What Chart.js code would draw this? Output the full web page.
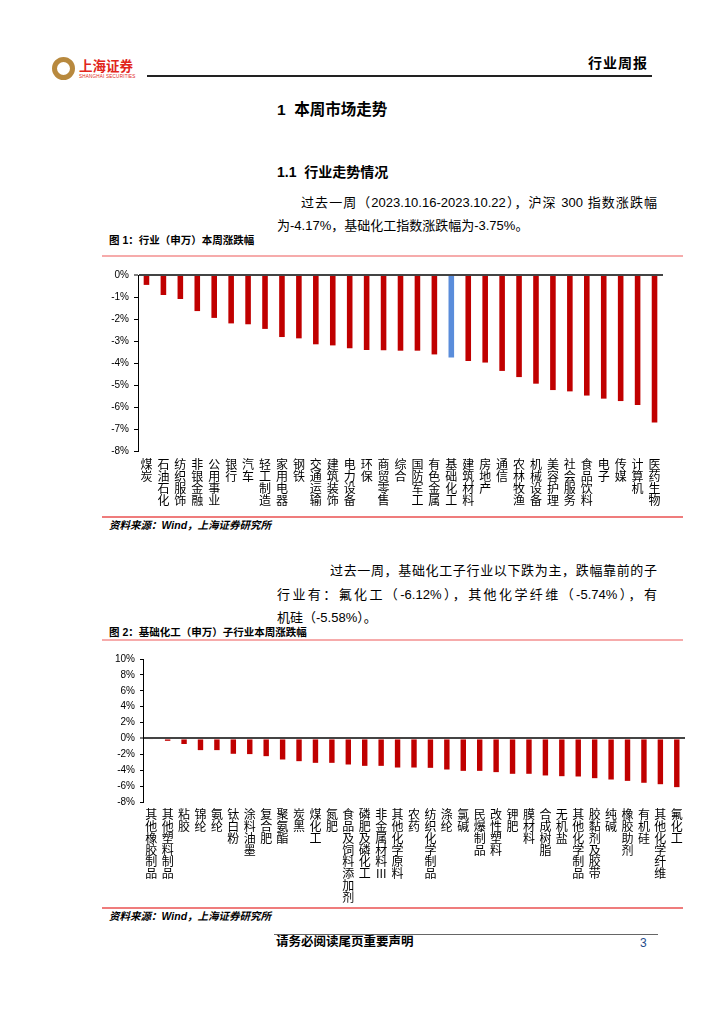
<!DOCTYPE html>
<html>
<head>
<meta charset="utf-8">
<script src="https://cdn.jsdelivr.net/npm/chart.js@4.4.0/dist/chart.umd.min.js"></script>
<style>
  body { margin: 0; background: #fff; }
  #page { position: relative; width: 724px; height: 1024px; overflow: hidden; background: #fff;
          font-family: "Liberation Sans", "Noto Sans CJK SC", sans-serif; color: #000; }
  .t { position: absolute; white-space: nowrap; line-height: 1; }
  .jl { text-align: justify; text-align-last: justify; }
  .rule { position: absolute; }
  canvas { position: absolute; }
</style>
</head>
<body>
<div id="page">
  <!-- header -->
  <div class="rule" style="left:52px;top:57px;width:13px;height:13px;border:5px solid #B8893E;border-radius:50%;background:#fff;"></div>
  <div class="t" style="left:79px;top:60px;font-size:13.5px;font-weight:bold;color:#E1251B;">上海证券</div>
  <div class="t" style="left:79px;top:75px;font-size:4.6px;color:#E1251B;letter-spacing:0.2px;">SHANGHAI SECURITIES</div>
  <div class="t" style="left:588px;top:56px;font-size:14px;font-weight:bold;letter-spacing:1px;">行业周报</div>
  <div class="rule" style="left:147px;top:75px;width:505px;height:2px;background:#222;"></div>

  <!-- section titles -->
  <div class="t" style="left:277px;top:102px;font-size:15.5px;font-weight:bold;">1&nbsp;&nbsp;本周市场走势</div>
  <div class="t" style="left:277px;top:165px;font-size:14px;font-weight:bold;">1.1&nbsp;&nbsp;行业走势情况</div>

  <div class="t jl" style="left:301px;top:196px;width:356px;font-size:13px;">过去一周（2023.10.16-2023.10.22），沪深 300 指数涨跌幅</div>
  <div class="t" style="left:277px;top:219px;font-size:13px;">为-4.17%，基础化工指数涨跌幅为-3.75%。</div>

  <div class="t" style="left:109px;top:235px;font-size:10.5px;font-weight:bold;">图 1：行业（申万）本周涨跌幅</div>
  <div class="rule" style="left:102px;top:255px;width:581px;height:2px;background:#F6ABAB;"></div>

  <canvas id="c1" width="580" height="252" style="left:100px;top:262px;width:580px;height:252px;"></canvas>

  <div class="rule" style="left:102px;top:516px;width:581px;height:2px;background:#EF7C7C;"></div>
  <div class="t" style="left:109px;top:520px;font-size:10.5px;font-weight:bold;font-style:italic;">资料来源：Wind，上海证券研究所</div>

  <div class="t jl" style="left:330px;top:564px;width:327px;font-size:13px;">过去一周，基础化工子行业以下跌为主，跌幅靠前的子</div>
  <div class="t jl" style="left:277px;top:588px;width:380px;font-size:13px;">行业有：氟化工（-6.12%），其他化学纤维（-5.74%），有</div>
  <div class="t" style="left:277px;top:611px;font-size:13px;">机硅（-5.58%）。</div>

  <div class="t" style="left:109px;top:627px;font-size:10.5px;font-weight:bold;">图 2：基础化工（申万）子行业本周涨跌幅</div>
  <div class="rule" style="left:102px;top:639px;width:581px;height:2px;background:#F6ABAB;"></div>

  <canvas id="c2" width="600" height="260" style="left:100px;top:645px;width:600px;height:260px;"></canvas>

  <div class="rule" style="left:102px;top:907px;width:581px;height:2px;background:#EF7C7C;"></div>
  <div class="t" style="left:109px;top:911px;font-size:10.5px;font-weight:bold;font-style:italic;">资料来源：Wind，上海证券研究所</div>

  <!-- footer -->
  <div class="rule" style="left:274px;top:934px;width:384px;height:1px;background:#666;"></div>
  <div class="t" style="left:276px;top:936px;font-size:12.5px;font-weight:bold;">请务必阅读尾页重要声明</div>
  <div class="t" style="left:640px;top:937px;font-size:12px;color:#1F4E8C;">3</div>
</div>

<script>
// ---- Chart 1 data: 申万一级行业本周涨跌幅 (%) ----
const industries = ['煤炭','石油石化','纺织服饰','非银金融','公用事业','银行','汽车','轻工制造','家用电器','钢铁',
  '交通运输','建筑装饰','电力设备','环保','商贸零售','综合','国防军工','有色金属','基础化工','建筑材料',
  '房地产','通信','农林牧渔','机械设备','美容护理','社会服务','食品饮料','电子','传媒','计算机','医药生物'];
const industryChanges = [-0.45,-0.91,-1.09,-1.64,-1.95,-2.20,-2.24,-2.45,-2.82,-2.88,
  -3.15,-3.20,-3.33,-3.41,-3.42,-3.44,-3.44,-3.61,-3.75,-3.91,
  -3.98,-4.36,-4.64,-4.94,-5.23,-5.29,-5.48,-5.62,-5.73,-5.91,-6.70];
const highlightIndustry = '基础化工';

// ---- Chart 2 data: 基础化工子行业本周涨跌幅 (%) ----
const subIndustries = ['其他橡胶制品','其他塑料制品','粘胶','锦纶','氨纶','钛白粉','涂料油墨','复合肥','聚氨酯','炭黑',
  '煤化工','氮肥','食品及饲料添加剂','磷肥及磷化工','非金属材料III','其他化学原料','农药','纺织化学制品','涤纶','氯碱',
  '民爆制品','改性塑料','钾肥','膜材料','合成树脂','无机盐','其他化学制品','胶黏剂及胶带','纯碱','橡胶助剂',
  '有机硅','其他化学纤维','氟化工'];
const subIndustryChanges = [-0.13,-0.30,-0.70,-1.47,-1.47,-1.93,-1.97,-2.23,-2.65,-2.86,
  -3.07,-3.07,-3.28,-3.45,-3.45,-3.66,-3.66,-3.70,-3.91,-4.08,
  -4.08,-4.24,-4.45,-4.45,-4.66,-4.75,-4.79,-5.00,-5.17,-5.34,
  -5.58,-5.76,-6.13];

// axis ranges
const axis1 = { min: -8, max: 0, step: 1 };
const axis2 = { min: -8, max: 10, step: 2 };

const RED = '#C00000';
const BLUE = '#5A8DDB';

function vertical(s) { return s.match(/[A-Za-z]+|./g); }

function makeChart(id, cats, vals, colors, ax, opts) {
  return new Chart(document.getElementById(id), {
    type: 'bar',
    data: {
      labels: cats.map(vertical),
      datasets: [{ data: vals, backgroundColor: colors, borderWidth: 0,
                   barPercentage: 0.33, categoryPercentage: 1.0 }]
    },
    options: {
      responsive: false, animation: false, devicePixelRatio: 1,
      layout: { padding: { top: opts.padTop, right: opts.padRight, left: 0, bottom: 0 } },
      plugins: { legend: { display: false }, tooltip: { enabled: false } },
      scales: {
        x: {
          grid: { display: false, drawTicks: false },
          border: { display: false },
          ticks: { autoSkip: false, maxRotation: 0, minRotation: 0, padding: opts.labelPad, color: '#000',
                   font: { family: '"Noto Sans CJK SC"', size: 12, lineHeight: 0.98 } },
          afterFit: s => { s.height = opts.xHeight; }
        },
        y: {
          min: ax.min, max: ax.max,
          ticks: { stepSize: ax.step, callback: v => v + '%', color: '#000', padding: 5,
                   font: { family: '"Liberation Sans"', size: 10 } },
          grid: {
            drawOnChartArea: true, drawTicks: true, tickLength: opts.tickLen,
            color: c => (c.tick && c.tick.value === 0) ? '#444' : 'rgba(0,0,0,0)',
            lineWidth: c => (c.tick && c.tick.value === 0) ? 2 : 1,
            tickColor: '#000', tickWidth: 1
          },
          border: { display: true, color: '#000', width: 1 },
          afterFit: s => { s.width = opts.yWidth; }
        }
      }
    }
  });
}

makeChart('c1', industries, industryChanges,
  industries.map(n => n === highlightIndustry ? BLUE : RED), axis1,
  { padTop: 13, padRight: 17, xHeight: 63, yWidth: 38, labelPad: 8, tickLen: 4 });

makeChart('c2', subIndustries, subIndustryChanges,
  subIndustries.map(() => RED), axis2,
  { padTop: 14, padRight: 15, xHeight: 103, yWidth: 43, labelPad: 7, tickLen: 3 });
</script>
</body>
</html>
